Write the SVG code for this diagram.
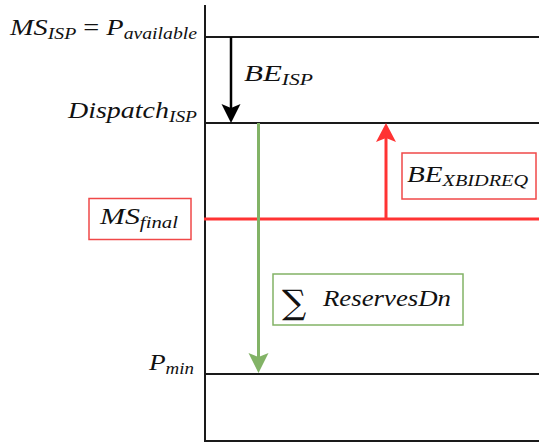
<svg xmlns="http://www.w3.org/2000/svg" width="539" height="442" viewBox="0 0 539 442">
<style>
.t{font-family:"Liberation Serif","DejaVu Serif",serif;font-style:italic;fill:#111}
.m{font-size:23px}
.s{font-size:16px}
.ax{stroke:#1a1a1a;stroke-width:2;fill:none}
</style>
<rect width="539" height="442" fill="#fff"/>
<g id="axes">
<line class="ax" x1="205" y1="5" x2="205" y2="441"/>
<line class="ax" x1="204" y1="441" x2="539" y2="441"/>
<line class="ax" x1="204" y1="37" x2="539" y2="37"/>
<line class="ax" x1="204" y1="123" x2="539" y2="123"/>
<line class="ax" x1="204" y1="374" x2="539" y2="374"/>
<line x1="204" y1="219" x2="539" y2="219" stroke="#FF3333" stroke-width="3"/>
</g>
<g id="connectors">
<line x1="231" y1="37" x2="231" y2="110" stroke="#000" stroke-width="2.5"/>
<path d="M221.5,104 L231,123 L240.5,104 L231,108 Z" fill="#000"/>
<line x1="258.5" y1="123" x2="258.5" y2="358" stroke="#82B366" stroke-width="3"/>
<path d="M248.5,353 L258.5,373 L268.5,353 L258.5,357 Z" fill="#82B366"/>
<line x1="386" y1="219" x2="386" y2="138" stroke="#FF3333" stroke-width="3"/>
<path d="M376,142 L386,123 L396,142 L386,138 Z" fill="#FF3333"/>
</g>
<g id="ms-isp">
<text class="t m" x="10" y="35" textLength="187" lengthAdjust="spacingAndGlyphs">MS<tspan class="s" dy="4">ISP</tspan><tspan dy="-4" font-style="normal"> = </tspan>P<tspan class="s" dy="4">available</tspan></text>
</g>
<g id="dispatch-isp">
<text class="t m" x="68" y="118" textLength="129" lengthAdjust="spacingAndGlyphs">Dispatch<tspan class="s" dy="4">ISP</tspan></text>
</g>
<g id="p-min">
<text class="t m" x="149" y="370" textLength="45" lengthAdjust="spacingAndGlyphs">P<tspan class="s" dy="4">min</tspan></text>
</g>
<g id="be-isp">
<text class="t m" x="244" y="81" textLength="69" lengthAdjust="spacingAndGlyphs">BE<tspan class="s" dy="4">ISP</tspan></text>
</g>
<g id="ms-final">
<rect x="89" y="198.5" width="102" height="41" fill="#fff" stroke="#F04848" stroke-width="1.5"/>
<text class="t m" x="100" y="224" textLength="78" lengthAdjust="spacingAndGlyphs">MS<tspan class="s" dy="4">final</tspan></text>
</g>
<g id="be-xbidreq">
<rect x="402" y="153" width="134" height="46" fill="#fff" stroke="#F04848" stroke-width="1.5"/>
<text class="t m" x="407" y="182" textLength="121" lengthAdjust="spacingAndGlyphs">BE<tspan class="s" dy="4">XBIDREQ</tspan></text>
</g>
<g id="reserves-dn">
<rect x="273" y="274" width="190" height="51" fill="#fff" stroke="#82B366" stroke-width="1.5"/>
<text x="282" y="314" font-family="'DejaVu Serif','Liberation Serif',serif" font-size="34" fill="#111">∑</text>
<text class="t m" x="323" y="306" textLength="128" lengthAdjust="spacingAndGlyphs">ReservesDn</text>
</g>
</svg>
